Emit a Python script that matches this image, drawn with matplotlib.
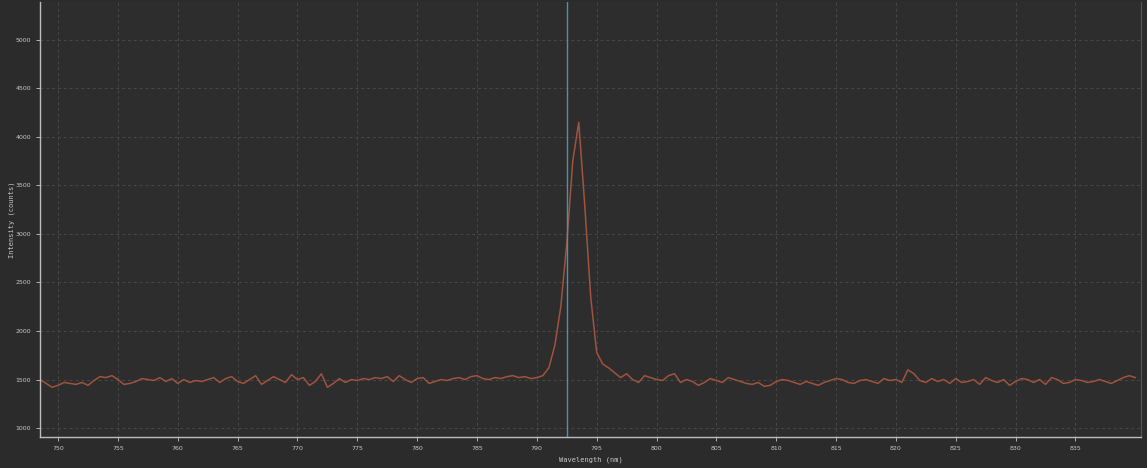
import numpy as np
import matplotlib
matplotlib.use("Agg")
import matplotlib.pyplot as plt

# ---- data ----
wl_start = 748.5
wl_step = 0.5
baseline_left = [1500,1460,1420,1440,1470,1460,1450,1470,1440,1490,
                 1530,1520,1540,1500,1450,1460,1480,1510,1500,1490,
                 1520,1480,1510,1460,1500,1470,1490,1480,1500,1520,
                 1470,1510,1530,1480,1460,1500,1540,1450,1490,1530,
                 1500,1470,1550,1500,1520,1440,1480,1560,1420,1460,
                 1510,1470,1500,1490,1510,1500,1520,1510,1530,1480,
                 1540,1500,1470,1510,1520,1460,1480,1500,1490,1510,
                 1520,1500,1530,1540,1510,1500,1520,1510,1530,1540,
                 1520,1530,1510,1520]
peak = [1540,1620,1850,2250,2900,3750,4150,3300,2350,1780,1660,1620,1570,1520]
baseline_right = [1560,1500,1470,1540,1520,1500,1490,1540,1560,1470,
                  1500,1480,1440,1470,1510,1490,1470,1520,1500,1480,
                  1460,1450,1470,1430,1440,1480,1500,1490,1470,1450,
                  1480,1460,1440,1470,1490,1510,1500,1470,1460,1490,
                  1500,1480,1460,1510,1490,1500,1470,1600,1560,1490,
                  1470,1510,1480,1500,1460,1510,1470,1480,1500,1450,
                  1520,1490,1470,1500,1440,1480,1510,1500,1470,1500,
                  1450,1520,1500,1460,1470,1500,1490,1470,1480,1500,
                  1480,1460,1490,1520,1540,1520]
intensity = baseline_left + peak + baseline_right
wavelength = wl_start + wl_step * np.arange(len(intensity))
marker_wl = 792.5
x_ticks = list(range(750, 840, 5))
y_ticks = list(range(1000, 5001, 500))

# ---- plot ----
bg = "#2b2b2b"
fig = plt.figure(figsize=(11.47, 4.68), dpi=100, facecolor=bg)
ax = fig.add_axes([0.035, 0.066, 0.96, 0.93], facecolor="#2d2d2d")

ax.plot(wavelength, intensity, color="#a0533d", lw=1.1)
ax.axvline(marker_wl, color="#4f8fb0", lw=1.0)

ax.set_xlim(748.5, 840.5)
ax.set_ylim(907, 5390)
ax.set_xticks(x_ticks)
ax.set_yticks(y_ticks)
ax.grid(True, color="#484848", ls=(0, (3, 3)), lw=0.7)
ax.tick_params(colors="#c8c8c8", labelsize=4.5, length=3, width=0.6)

for s in ["left", "bottom"]:
    ax.spines[s].set_color("#bdbdbd")
    ax.spines[s].set_linewidth(1.0)
ax.spines["top"].set_visible(False)
ax.spines["right"].set_color("#555555")

ax.set_xlabel("Wavelength (nm)", color="#c8c8c8", fontsize=5,
              family="DejaVu Sans Mono", labelpad=4)
ax.set_ylabel("Intensity (counts)", color="#c8c8c8", fontsize=5,
              family="DejaVu Sans Mono")
ax.yaxis.set_label_coords(-0.023, 0.5)

fig.savefig("out.png", dpi=100, facecolor=bg)
